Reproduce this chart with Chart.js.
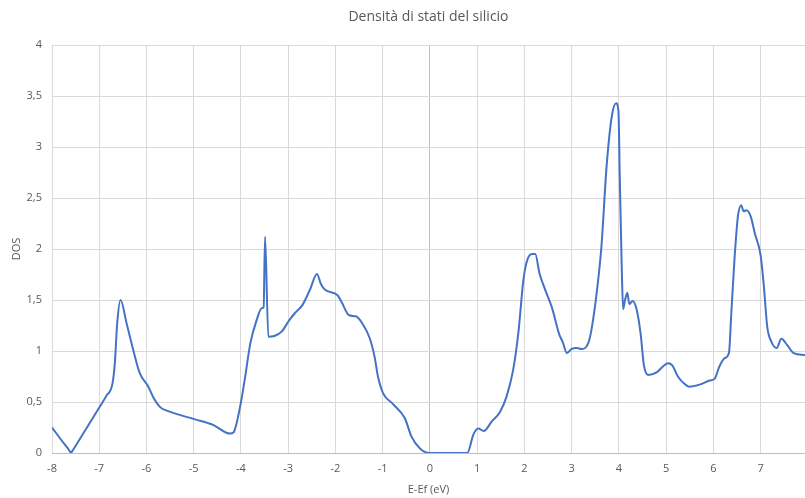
<!DOCTYPE html>
<html>
<head>
<meta charset="utf-8">
<script src="https://cdn.jsdelivr.net/npm/chart.js@4/dist/chart.umd.min.js"></script>
<style>
  html, body { margin: 0; padding: 0; background: #ffffff; }
  #wrap { width: 805px; height: 498px; position: relative; }
</style>
</head>
<body>
<div id="wrap"><canvas id="dos"></canvas></div>
<script>
// Energia rispetto al livello di Fermi (eV)
const energy = [
  -8.00, -7.80, -7.62, -7.60, -7.57, -7.30, -6.98, -6.85, -6.72, -6.67,
  -6.62, -6.55, -6.42, -6.28, -6.14,
  -5.96, -5.86, -5.71, -5.57, -4.97, -4.59, -4.23, -4.16, -4.02, -3.92,
  -3.80, -3.67, -3.56, -3.52, -3.49, -3.42, -3.28, -3.14, -2.98, -2.86,
  -2.70, -2.54, -2.39, -2.31, -2.22, -1.96, -1.87, -1.71, -1.57, -1.43,
  -1.27, -1.17, -1.10, -0.99, -0.78, -0.53, -0.39, -0.21, -0.01, 0.40,
  0.79, 0.92, 1.02, 1.14, 1.31, 1.48, 1.62, 1.76, 1.87, 1.98,
  2.05, 2.16, 2.23, 2.32, 2.44, 2.58, 2.74, 2.81, 2.90, 3.00,
  3.11, 3.21, 3.35, 3.42, 3.53, 3.63, 3.74, 3.85, 3.94, 3.99,
  4.02, 4.06, 4.09, 4.13, 4.18, 4.22, 4.29, 4.38, 4.46, 4.53,
  4.62, 4.80, 4.94, 5.04, 5.13, 5.25, 5.36, 5.49, 5.71, 5.92,
  6.03, 6.13, 6.24, 6.33, 6.38, 6.45, 6.52, 6.59, 6.64, 6.70,
  6.79, 6.88, 7.00, 7.07, 7.14, 7.23, 7.34, 7.44, 7.56, 7.70,
  7.94
];

// Densità di stati corrispondente
const dos = [
  0.25, 0.125, 0.015, 0.00, 0.02, 0.22, 0.46, 0.56, 0.68, 0.88,
  1.27, 1.50, 1.27, 1.01, 0.78,
  0.65, 0.55, 0.45, 0.415, 0.33, 0.275, 0.19, 0.20, 0.45, 0.72,
  1.08, 1.30, 1.42, 1.43, 2.12, 1.14, 1.15, 1.19, 1.30, 1.37,
  1.45, 1.60, 1.755, 1.66, 1.60, 1.55, 1.48, 1.35, 1.34, 1.27,
  1.12, 0.94, 0.75, 0.585, 0.48, 0.34, 0.16, 0.045, 0.00, 0.00,
  0.00, 0.18, 0.24, 0.215, 0.31, 0.40, 0.55, 0.81, 1.17, 1.70,
  1.875, 1.95, 1.95, 1.76, 1.60, 1.43, 1.16, 1.09, 0.98, 1.02,
  1.03, 1.02, 1.075, 1.21, 1.57, 2.02, 2.81, 3.30, 3.43, 3.36,
  2.68, 1.83, 1.41, 1.50, 1.57, 1.46, 1.49, 1.40, 1.17, 0.86,
  0.765, 0.79, 0.85, 0.88, 0.86, 0.75, 0.69, 0.65, 0.67, 0.71,
  0.73, 0.85, 0.93, 0.98, 1.37, 1.92, 2.32, 2.43, 2.37, 2.38,
  2.32, 2.15, 1.94, 1.63, 1.24, 1.09, 1.03, 1.12, 1.06, 0.98,
  0.96
];

// Etichette degli assi
const xTicks = [-8, -7, -6, -5, -4, -3, -2, -1, 0, 1, 2, 3, 4, 5, 6, 7];
const yTicks = [0, 0.5, 1, 1.5, 2, 2.5, 3, 3.5, 4];

const points = energy.map((e, i) => ({ x: e, y: dos[i] }));
const fmt = v => String(v).replace('.', ',');
const textColor = '#595959';
const baseFont = { family: "'Open Sans', 'Liberation Sans', sans-serif" };

new Chart(document.getElementById('dos'), {
  type: 'line',
  data: {
    datasets: [{
      data: points,
      borderColor: '#4472C4',
      borderWidth: 2,
      pointRadius: 0,
      tension: 0.4,
      cubicInterpolationMode: 'monotone',
      fill: false
    }]
  },
  options: {
    responsive: true,
    maintainAspectRatio: false,
    animation: false,
    layout: { padding: 0 },
    plugins: {
      legend: { display: false },
      tooltip: { enabled: false },
      title: {
        display: true,
        fullSize: false,
        text: 'Densità di stati del silicio',
        color: textColor,
        font: { ...baseFont, size: 14, weight: 'normal', lineHeight: 1.2 },
        padding: { top: 9, bottom: 19.2 }
      }
    },
    scales: {
      x: {
        type: 'linear',
        min: xTicks[0],
        max: energy[energy.length - 1],
        afterBuildTicks: s => { s.ticks = xTicks.map(v => ({ value: v })); },
        afterFit: s => { s.height = 45; },
        ticks: {
          includeBounds: false,
          color: textColor,
          font: { ...baseFont, size: 11 },
          padding: 9,
          maxRotation: 0,
          callback: v => fmt(v)
        },
        grid: {
          drawTicks: false,
          color: ctx => (ctx.tick && ctx.tick.value === 0) ? '#bfbfbf' : '#d9d9d9',
          lineWidth: 1
        },
        border: { display: true, color: '#bfbfbf' },
        title: {
          display: true,
          text: 'E-Ef (eV)',
          color: textColor,
          font: { ...baseFont, size: 11, lineHeight: 1.2 },
          padding: { top: 2, bottom: 2 }
        }
      },
      y: {
        min: 0,
        max: 4,
        afterBuildTicks: s => { s.ticks = yTicks.map(v => ({ value: v })); },
        afterFit: s => { s.width = 52; },
        ticks: {
          color: textColor,
          font: { ...baseFont, size: 11 },
          padding: 10,
          callback: v => fmt(v)
        },
        grid: {
          drawTicks: false,
          color: ctx => (ctx.tick && ctx.tick.value === 0) ? '#bfbfbf' : '#d9d9d9',
          lineWidth: 1
        },
        border: { display: false },
        title: {
          display: true,
          text: 'DOS',
          color: textColor,
          font: { ...baseFont, size: 11, lineHeight: 1.2 },
          padding: { top: 10, bottom: 0 }
        }
      }
    }
  }
});
</script>
</body>
</html>
